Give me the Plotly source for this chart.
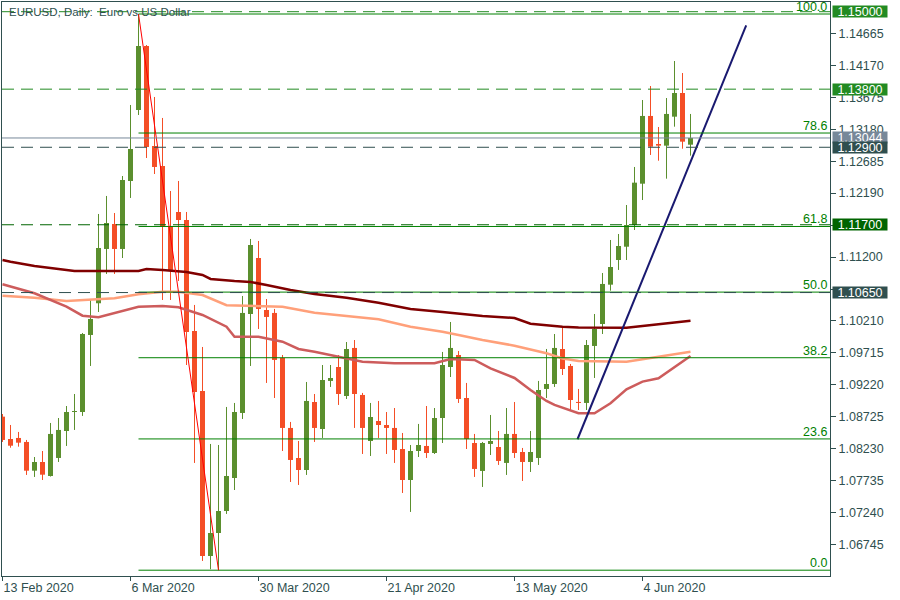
import plotly.graph_objects as go

# ---------------- data ----------------
dates = ["2020-02-13", "2020-02-14", "2020-02-17", "2020-02-18", "2020-02-19", "2020-02-20", "2020-02-21",
         "2020-02-24", "2020-02-25", "2020-02-26", "2020-02-27", "2020-02-28", "2020-03-02", "2020-03-03",
         "2020-03-04", "2020-03-05", "2020-03-06", "2020-03-09", "2020-03-10", "2020-03-11", "2020-03-12",
         "2020-03-13", "2020-03-16", "2020-03-17", "2020-03-18", "2020-03-19", "2020-03-20", "2020-03-23",
         "2020-03-24", "2020-03-25", "2020-03-26", "2020-03-27", "2020-03-30", "2020-03-31", "2020-04-01",
         "2020-04-02", "2020-04-03", "2020-04-06", "2020-04-07", "2020-04-08", "2020-04-09", "2020-04-10",
         "2020-04-13", "2020-04-14", "2020-04-15", "2020-04-16", "2020-04-17", "2020-04-20", "2020-04-21",
         "2020-04-22", "2020-04-23", "2020-04-24", "2020-04-27", "2020-04-28", "2020-04-29", "2020-04-30",
         "2020-05-01", "2020-05-04", "2020-05-05", "2020-05-06", "2020-05-07", "2020-05-08", "2020-05-11",
         "2020-05-12", "2020-05-13", "2020-05-14", "2020-05-15", "2020-05-18", "2020-05-19", "2020-05-20",
         "2020-05-21", "2020-05-22", "2020-05-25", "2020-05-26", "2020-05-27", "2020-05-28", "2020-05-29",
         "2020-06-01", "2020-06-02", "2020-06-03", "2020-06-04", "2020-06-05", "2020-06-08", "2020-06-09",
         "2020-06-10", "2020-06-11", "2020-06-12"]

opens = [1.08728, 1.08382, 1.08398, 1.08336, 1.07891, 1.08026, 1.07809, 1.08088, 1.08506, 1.08800,
         1.08800, 1.09993, 1.10484, 1.11325, 1.11712, 1.11325, 1.12378, 1.13477, 1.14469, 1.12920,
         1.12610, 1.11681, 1.11898, 1.11774, 1.10055, 1.09126, 1.06570, 1.06926, 1.07267, 1.07778,
         1.08785, 1.10318, 1.11185, 1.10380, 1.10334, 1.09637, 1.08553, 1.08088, 1.07902, 1.08955,
         1.08537, 1.09281, 1.09497, 1.09048, 1.09792, 1.09064, 1.08351, 1.08661, 1.08599, 1.08553,
         1.08227, 1.07747, 1.08196, 1.08274, 1.08165, 1.08707, 1.09497, 1.09683, 1.09017, 1.08320,
         1.07887, 1.08305, 1.08258, 1.08011, 1.08460, 1.08181, 1.08026, 1.08088, 1.09157, 1.09234,
         1.09776, 1.09513, 1.08955, 1.08940, 1.09823, 1.10163, 1.10772, 1.11154, 1.11360, 1.11696,
         1.12336, 1.13385, 1.12951, 1.12925, 1.13374, 1.13741, 1.12940]
highs = [1.08769, 1.08599, 1.08491, 1.08367, 1.08103, 1.08196, 1.08630, 1.08707, 1.08893, 1.09079,
         1.10024, 1.10550, 1.11867, 1.12146, 1.11882, 1.12455, 1.13555, 1.14964, 1.14484, 1.13679,
         1.13354, 1.12223, 1.12378, 1.11898, 1.10458, 1.09807, 1.08305, 1.08289, 1.08878, 1.08940,
         1.10597, 1.11480, 1.11449, 1.10550, 1.10396, 1.09683, 1.08646, 1.08351, 1.09265, 1.09079,
         1.09528, 1.09528, 1.09683, 1.09884, 1.09915, 1.09095, 1.08940, 1.08971, 1.08800, 1.08862,
         1.08475, 1.08289, 1.08615, 1.08893, 1.08862, 1.09730, 1.10194, 1.09745, 1.09250, 1.08460,
         1.08336, 1.08754, 1.08506, 1.08862, 1.08955, 1.08243, 1.08506, 1.09281, 1.09776, 1.10008,
         1.10132, 1.09544, 1.09157, 1.09915, 1.10318, 1.10953, 1.11464, 1.11557, 1.12006, 1.12595,
         1.13632, 1.13849, 1.13214, 1.13663, 1.14236, 1.14050, 1.13416]
lows = [1.08336, 1.08247, 1.08263, 1.07825, 1.07794, 1.07747, 1.07800, 1.08026, 1.08274, 1.08522,
        1.08739, 1.09513, 1.10349, 1.10938, 1.10938, 1.11185, 1.12115, 1.13400, 1.12734, 1.12486,
        1.10535, 1.10535, 1.10829, 1.09528, 1.08011, 1.06493, 1.06365, 1.06350, 1.07221, 1.07592,
        1.08692, 1.09513, 1.10086, 1.09250, 1.09017, 1.08196, 1.07716, 1.07670, 1.07825, 1.08336,
        1.08398, 1.09188, 1.08909, 1.09002, 1.08553, 1.08150, 1.08119, 1.08398, 1.08150, 1.08011,
        1.07546, 1.07252, 1.08103, 1.08088, 1.08150, 1.08320, 1.09342, 1.08940, 1.08227, 1.07794,
        1.07639, 1.08134, 1.07980, 1.07825, 1.08088, 1.07732, 1.07871, 1.07980, 1.09017, 1.09188,
        1.09373, 1.08831, 1.08831, 1.08831, 1.09327, 1.10008, 1.10679, 1.11000, 1.11154, 1.11619,
        1.12083, 1.12781, 1.12692, 1.12414, 1.13219, 1.12878, 1.12770]
closes = [1.08367, 1.08278, 1.08325, 1.07891, 1.08026, 1.07829, 1.08460, 1.08522, 1.08800, 1.08805,
          1.10008, 1.10241, 1.11340, 1.11727, 1.11325, 1.12393, 1.12873, 1.14469, 1.12904, 1.12595,
          1.11666, 1.11000, 1.11774, 1.10039, 1.09110, 1.06570, 1.06926, 1.07267, 1.07809, 1.08800,
          1.10334, 1.11387, 1.10396, 1.10272, 1.09606, 1.08553, 1.08057, 1.07902, 1.08971, 1.08553,
          1.09296, 1.09327, 1.09079, 1.09776, 1.09079, 1.08553, 1.08723, 1.08599, 1.08553, 1.08212,
          1.07747, 1.08196, 1.08289, 1.08165, 1.08707, 1.09528, 1.09792, 1.09002, 1.08382, 1.07918,
          1.08320, 1.08351, 1.08042, 1.08460, 1.08165, 1.08026, 1.08181, 1.09141, 1.09234, 1.09792,
          1.09466, 1.08986, 1.08940, 1.09838, 1.10086, 1.10783, 1.11046, 1.11371, 1.11696, 1.12352,
          1.13385, 1.12909, 1.12925, 1.13416, 1.13741, 1.12987, 1.13044]

# moving averages (bar index -> value), read at sample bars
ma200_idx = [0, 1, 4, 9, 17, 18, 20, 23, 25, 26, 29, 31, 33, 36, 39, 43, 47, 51, 55, 60, 64, 66, 70, 72, 78, 82, 86]
ma200_val = [1.11154, 1.11128, 1.11062, 1.10984, 1.10984, 1.11015, 1.11000, 1.10969, 1.10922, 1.10860,
             1.10829, 1.10814, 1.10767, 1.10690, 1.10628, 1.10571, 1.10493, 1.10396, 1.10349, 1.10287,
             1.10256, 1.10168, 1.10121, 1.10109, 1.10106, 1.10163, 1.10214]
ma100_idx = [0, 4, 8, 10, 12, 14, 17, 20, 22, 25, 28, 31, 35, 37, 39, 43, 47, 51, 55, 57, 60, 64, 68, 70,
             72, 78, 82, 86]
ma100_val = [1.10602, 1.10571, 1.10519, 1.10530, 1.10546, 1.10561, 1.10623, 1.10663, 1.10663, 1.10612,
             1.10453, 1.10447, 1.10431, 1.10385, 1.10338, 1.10287, 1.10236, 1.10121, 1.10044, 1.09993,
             1.09915, 1.09827, 1.09709, 1.09629, 1.09590, 1.09579, 1.09657, 1.09734]
ma50_idx = [0, 4, 8, 10, 12, 14, 17, 20, 22, 25, 28, 29, 32, 35, 37, 39, 43, 45, 49, 54, 56, 59, 61, 64,
            66, 68, 69, 72, 74, 76, 78, 80, 82, 86]
ma50_val = [1.10778, 1.10639, 1.10431, 1.10292, 1.10267, 1.10329, 1.10431, 1.10442, 1.10422, 1.10303,
            1.10121, 1.09966, 1.09966, 1.09889, 1.09776, 1.09734, 1.09632, 1.09579, 1.09555, 1.09555,
            1.09621, 1.09606, 1.09477, 1.09327, 1.09141, 1.08971, 1.08909, 1.08780, 1.08780, 1.08935,
            1.09152, 1.09270, 1.09322, 1.09668]

# trend line (bar index, price)
trend_idx = [71.875, 92.96]
trend_val = [1.08378, 1.14789]

# fibonacci retracement anchors
fib_hi_idx = 17
fib_lo_idx = 27
fib_ratios = [0.0, 23.6, 38.2, 50.0, 61.8, 78.6, 100.0]

# horizontal levels
levels = [1.15000, 1.13800, 1.12900, 1.11700, 1.10650]
bid_price = 1.13044

# axes labels
xtick_idx = [0, 16, 32, 48, 64, 80]
xtick_text = ["13 Feb 2020", "6 Mar 2020", "30 Mar 2020", "21 Apr 2020", "13 May 2020", "4 Jun 2020"]
ytick_vals = [1.06745, 1.07240, 1.07735, 1.08230, 1.08725, 1.09220, 1.09715, 1.10210,
              1.10705, 1.11200, 1.11695, 1.12190, 1.12685, 1.13180, 1.13675, 1.14170, 1.14665]
# labels fully hidden behind price boxes in the reference are left blank
ytick_text = ["1.06745", "1.07240", "1.07735", "1.08230", "1.08725", "1.09220", "1.09715", "1.10210",
              "", "1.11200", "", "1.12190", "1.12685", "1.13180", "1.13675", "1.14170", "1.14665"]

# ---------------- styles ----------------
UP = "#5B8F2E"
DN = "#F44E26"
SLATE = "#2F4F4F"
FIBG = "#008000"
FONT = "Liberation Sans"
X_RANGE = [-0.0625, 103.4375]
Y_RANGE = [1.0626, 1.1515]

fig = go.Figure()

# candles
for bull, col in ((True, UP), (False, DN)):
    bx, bbase, bh, wx, wy = [], [], [], [], []
    for i, (o, h, l, c) in enumerate(zip(opens, highs, lows, closes)):
        if (c >= o) != bull:
            continue
        lo, hi = min(o, c), max(o, c)
        bx.append(i)
        bbase.append(lo)
        bh.append(max(hi - lo, 0.00016))
        wx += [i, i, None]
        wy += [l, h, None]
    fig.add_trace(go.Scatter(x=wx, y=wy, mode="lines", line=dict(color=col, width=1),
                             hoverinfo="skip", showlegend=False))
    fig.add_trace(go.Bar(x=bx, base=bbase, y=bh, width=0.625,
                         marker=dict(color=col, line=dict(width=0)),
                         hoverinfo="skip", showlegend=False))

# moving averages
for xi, yv, col in ((ma200_idx, ma200_val, "#800000"),
                    (ma100_idx, ma100_val, "#FFA07A"),
                    (ma50_idx, ma50_val, "#CD5C5C")):
    fig.add_trace(go.Scatter(x=xi, y=yv, mode="lines", line=dict(color=col, width=2.5),
                             hoverinfo="skip", showlegend=False))

# trend line
fig.add_trace(go.Scatter(x=trend_idx, y=trend_val, mode="lines", line=dict(color="#191970", width=2),
                         hoverinfo="skip", showlegend=False))

shapes = []
annotations = []

# fibonacci
fib_high = highs[fib_hi_idx]
fib_low = lows[fib_lo_idx]
for r in fib_ratios:
    lv = fib_low + (fib_high - fib_low) * r / 100.0
    shapes.append(dict(type="line", xref="x", yref="y", x0=fib_hi_idx, x1=X_RANGE[1], y0=lv, y1=lv,
                       line=dict(color=FIBG, width=1)))
    annotations.append(dict(xref="x", yref="y", x=X_RANGE[1], y=lv, xanchor="right", yanchor="bottom",
                            text=f"{r:.1f}", showarrow=False, yshift=-2, xshift=-1,
                            font=dict(family=FONT, size=12.5, color=FIBG)))
shapes.append(dict(type="line", xref="x", yref="y", x0=fib_hi_idx, x1=fib_lo_idx, y0=fib_high, y1=fib_low,
                   line=dict(color="#FF0000", width=1)))

# horizontal levels
level_line_col = ["#228B22", "#228B22", SLATE, "#006400", SLATE]
level_box_col = ["#228B22", "#228B22", SLATE, "#006400", SLATE]
shapes.append(dict(type="line", xref="paper", yref="y", x0=0, x1=1, y0=bid_price, y1=bid_price,
                   line=dict(color="#778899", width=1)))
for lv, lc in zip(levels, level_line_col):
    shapes.append(dict(type="line", xref="paper", yref="y", x0=0, x1=1, y0=lv, y1=lv,
                       line=dict(color=lc, width=1, dash="12px,7px")))

# right-hand price boxes (bid first so the 1.12900 box sits on top)
box_items = [(bid_price, "#778899")] + list(zip(levels, level_box_col))
for lv, bc in box_items:
    annotations.append(dict(xref="paper", yref="y", x=1, y=lv, xanchor="left", yanchor="middle",
                            xshift=2, text=f"{lv:.5f}", showarrow=False, bgcolor=bc,
                            width=54, height=11, borderpad=0, align="center",
                            font=dict(family=FONT, size=12.5, color="#FFFFFF")))

# title
annotations.append(dict(xref="paper", yref="paper", x=0, y=1, xanchor="left", yanchor="top",
                        xshift=5, yshift=-2, showarrow=False,
                        text="EURUSD, Daily:\u00a0 Euro vs US Dollar",
                        font=dict(family=FONT, size=11.5, color=SLATE)))

fig.update_layout(
    width=900, height=600,
    margin=dict(l=2, r=70, t=2, b=24, pad=0),
    paper_bgcolor="white", plot_bgcolor="white",
    barmode="overlay", showlegend=False, hovermode=False,
    shapes=shapes, annotations=annotations,
    font=dict(family=FONT, size=12, color=SLATE),
    xaxis=dict(range=X_RANGE, tickmode="array", tickvals=xtick_idx, ticktext=xtick_text,
               showgrid=False, zeroline=False, showline=True, linecolor=SLATE, linewidth=1,
               mirror=True, ticks="outside", ticklen=4, tickcolor=SLATE,
               ticklabelposition="outside right", automargin=False,
               tickfont=dict(family=FONT, size=12.5, color=SLATE)),
    yaxis=dict(range=Y_RANGE, side="right", tickmode="array", tickvals=ytick_vals, ticktext=ytick_text,
               showgrid=False, zeroline=False, showline=True, linecolor=SLATE, linewidth=1,
               mirror=True, ticks="outside", ticklen=5, tickcolor=SLATE, automargin=False,
               tickfont=dict(family=FONT, size=12.5, color=SLATE)),
)

fig.write_html("out.html",
               config={"displayModeBar": False, "staticPlot": True},
               post_script="document.body.style.margin='0px';document.body.style.padding='0px';")
